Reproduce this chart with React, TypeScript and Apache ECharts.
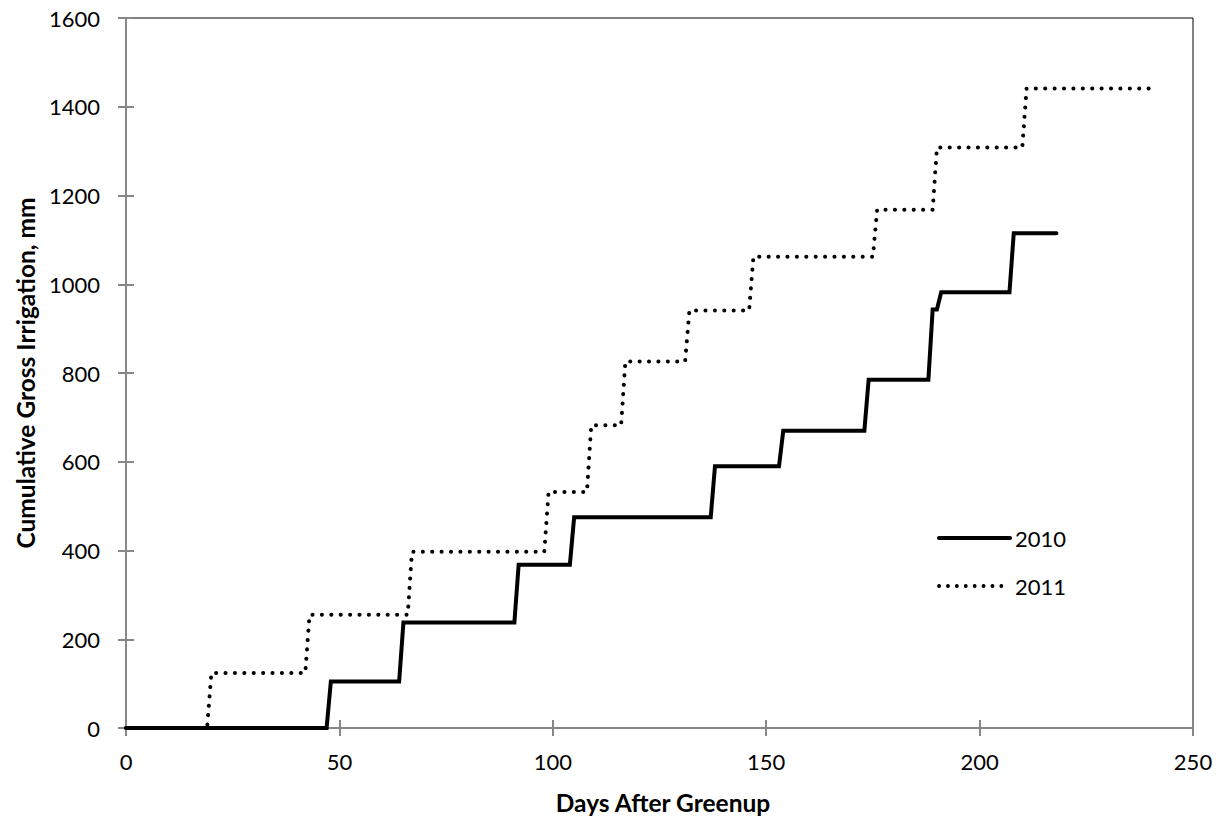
import React, { useEffect, useRef } from "react";
import * as echarts from "echarts";

// Cumulative gross irrigation (mm) against days after greenup, two seasons.
const days2010 = [0, 47, 48, 64, 65, 91, 92, 104, 105, 137, 138, 153, 154, 173, 174, 188, 189, 190, 191, 207, 208, 218];
const irr2010 = [0, 0, 105, 105, 238, 238, 368, 368, 475, 475, 590, 590, 670, 670, 785, 785, 943, 943, 982, 982, 1115, 1115];

const days2011 = [0, 19, 20, 42, 43, 66, 67, 98, 99, 108, 109, 116, 117, 131, 132, 146, 147, 175, 176, 189, 190, 210, 211, 241];
const irr2011 = [0, 0, 124, 124, 255, 255, 397, 397, 532, 532, 682, 682, 826, 826, 941, 941, 1062, 1062, 1168, 1168, 1308, 1308, 1441, 1441];

const xTicks = { min: 0, max: 250, interval: 50 };
const yTicks = { min: 0, max: 1600, interval: 200 };

const FONT = "Lato, 'Open Sans', sans-serif";
const AXIS_GREY = "#878787";
const DOTTED: number[] = [0.1, 9.3];

const pairs = (xs: number[], ys: number[]) => xs.map((x, i) => [x, ys[i]]);

export default function App() {
  const ref = useRef<HTMLDivElement>(null);

  useEffect(() => {
    document.body.style.margin = "0";
    if (!ref.current) return;
    const chart = echarts.init(ref.current, null, { renderer: "svg" });

    const baseX = {
      type: "value" as const,
      min: xTicks.min,
      max: xTicks.max,
      interval: xTicks.interval,
      position: "bottom" as const,
      splitLine: { show: false },
    };
    const baseY = {
      type: "value" as const,
      min: yTicks.min,
      max: yTicks.max,
      interval: yTicks.interval,
      position: "left" as const,
      splitLine: { show: false },
    };
    const tickLabel = { fontFamily: FONT, fontSize: 22, color: "#000000" };
    const titleStyle = { fontFamily: FONT, fontSize: 24.5, fontWeight: "bold", color: "#000000" };

    chart.setOption({
      animation: false,
      backgroundColor: "#ffffff",
      grid: {
        left: 126,
        right: 23,
        top: 18,
        bottom: 93,
        show: true,
        borderColor: "#000000",
        borderWidth: 1,
        backgroundColor: "transparent",
      },
      legend: {
        orient: "vertical",
        left: 932,
        top: 522,
        itemWidth: 71,
        itemHeight: 22,
        itemGap: 26,
        textStyle: { ...tickLabel },
        data: [
          {
            name: "2010",
            itemStyle: { opacity: 0 },
            lineStyle: { color: "#000000", width: 4, type: "solid", cap: "round" },
          },
          {
            name: "2011",
            itemStyle: { opacity: 0 },
            lineStyle: { color: "#000000", width: 3.8, type: [0.1, 8.8], cap: "round" },
          },
        ],
      },
      xAxis: [
        {
          ...baseX,
          name: "Days After Greenup",
          nameLocation: "middle",
          nameGap: 62,
          nameTextStyle: { ...titleStyle, padding: [0, 0, 0, 7] },
          axisLine: { show: true, lineStyle: { color: AXIS_GREY, width: 2 } },
          axisTick: { show: true, inside: false, length: 8, lineStyle: { color: AXIS_GREY, width: 2 } },
          axisLabel: { ...tickLabel, margin: 22 },
        },
        {
          ...baseX,
          axisLine: { show: false },
          axisTick: { show: true, inside: true, length: 8, lineStyle: { color: AXIS_GREY, width: 2 } },
          axisLabel: { show: false },
        },
      ],
      yAxis: [
        {
          ...baseY,
          name: "Cumulative Gross Irrigation, mm",
          nameLocation: "middle",
          nameGap: 87,
          nameTextStyle: titleStyle,
          axisLine: { show: true, lineStyle: { color: AXIS_GREY, width: 2 } },
          axisTick: { show: true, inside: false, length: 8, lineStyle: { color: AXIS_GREY, width: 2 } },
          axisLabel: { ...tickLabel, margin: 26, formatter: (v: number) => String(v) },
        },
        {
          ...baseY,
          axisLine: { show: false },
          axisTick: { show: true, inside: true, length: 8, lineStyle: { color: AXIS_GREY, width: 2 } },
          axisLabel: { show: false },
        },
      ],
      series: [
        {
          name: "2010",
          type: "line",
          data: pairs(days2010, irr2010),
          showSymbol: false,
          symbol: "none",
          z: 5,
          itemStyle: { color: "#000000" },
          lineStyle: { color: "#000000", width: 4, cap: "round", join: "miter" },
        },
        {
          name: "2011",
          type: "line",
          data: pairs(days2011, irr2011),
          showSymbol: false,
          symbol: "none",
          z: 5,
          itemStyle: { color: "#000000" },
          lineStyle: { color: "#000000", width: 4, type: DOTTED, cap: "round", join: "round" },
        },
      ],
    });

    return () => chart.dispose();
  }, []);

  return <div ref={ref} style={{ width: 1216, height: 821 }} />;
}
